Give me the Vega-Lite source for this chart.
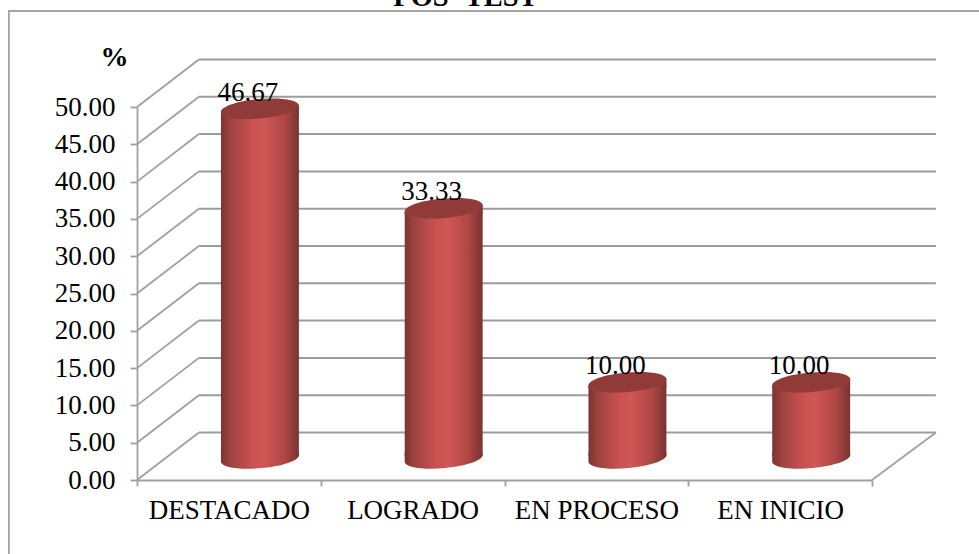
{
"$schema":"https://vega.github.io/schema/vega-lite/v6.json",
"autosize":"none",
"width":735,"height":373,
"padding":{"left":137,"top":107,"right":107,"bottom":74},
"background":"white",
"config":{"view":{"stroke":null},"font":"Liberation Serif"},
"title":{"text":"POS- TEST","font":"Liberation Serif","fontSize":28.5,"fontWeight":"bold","color":"#000000","anchor":"middle","frame":"group","dx":-39,"dy":24.5,"offset":0,"baseline":"alphabetic"},
"datasets":{
"bars":[{"category":"DESTACADO","value":46.67,"slot":0},{"category":"LOGRADO","value":33.33,"slot":1},{"category":"EN PROCESO","value":10.00,"slot":2},{"category":"EN INICIO","value":10.00,"slot":3}],
"grid":[{"v":0},{"v":5},{"v":10},{"v":15},{"v":20},{"v":25},{"v":30},{"v":35},{"v":40},{"v":45},{"v":50}]
},
"resolve":{"scale":{"x":"independent"},"axis":{"y":"independent"}},
"layer":[
{
"layer":[
{"data":{"values":[{"part":"chart area"}]},"mark":{"type":"rect","fill":"transparent","stroke":"#a6a6a6","strokeWidth":1.8},
 "encoding":{"x":{"datum":-0.697,"type":"quantitative","scale":{"domain":[0,4],"nice":false,"zero":false},"axis":null},"x2":{"datum":5},"y":{"datum":62.87,"type":"quantitative","scale":{"domain":[0,50],"nice":false,"zero":false},"axis":null},"y2":{"datum":-12}}},
{"data":{"name":"grid"},"transform":[{"calculate":"datum.v+6.37","as":"back"}],"mark":{"type":"rule","stroke":"#9c9c9c","strokeWidth":2},
 "encoding":{"x":{"datum":0.337,"type":"quantitative","axis":null},"x2":{"datum":4.348},"y":{"field":"back","type":"quantitative","scale":{"domain":[0,50],"nice":false,"zero":false},"axis":null}}},
{"data":{"name":"grid"},"transform":[{"calculate":"datum.v+6.37","as":"back"}],"mark":{"type":"rule","stroke":"#a0a0a0","strokeWidth":1.8},
 "encoding":{"x":{"datum":0,"type":"quantitative","axis":null},"x2":{"datum":0.337},"y":{"field":"v","type":"quantitative","scale":{"domain":[0,50],"nice":false,"zero":false},"axis":null},"y2":{"field":"back"}}},
{"data":{"values":[{"v":0}]},"transform":[{"calculate":"datum.v+6.37","as":"back"}],"mark":{"type":"rule","stroke":"#a0a0a0","strokeWidth":1.8},
 "encoding":{"x":{"datum":4,"type":"quantitative","axis":null},"x2":{"datum":4.348},"y":{"field":"v","type":"quantitative","scale":{"domain":[0,50],"nice":false,"zero":false},"axis":null},"y2":{"field":"back"}}},
{"data":{"name":"bars"},"transform":[{"calculate":"datum.slot+0.669","as":"mid"},{"calculate":"datum.mid-0.212","as":"x0"},{"calculate":"datum.mid+0.212","as":"x1"},{"calculate":"2.8+0.47","as":"base"},{"calculate":"datum.value+3.1-0.47","as":"top"}],
 "mark":{"type":"rect","fill":{"x1":0,"y1":0,"x2":1,"y2":0,"gradient":"linear","stops":[{"offset":0,"color":"#7c3432"},{"offset":0.12,"color":"#9c4240"},{"offset":0.4,"color":"#c9524f"},{"offset":0.55,"color":"#cf5755"},{"offset":0.8,"color":"#b04846"},{"offset":0.94,"color":"#8a3a38"},{"offset":1,"color":"#7a3331"}]}},
 "encoding":{"x":{"field":"x0","type":"quantitative","axis":null},"x2":{"field":"x1"},"y":{"field":"top","type":"quantitative","scale":{"domain":[0,50],"nice":false,"zero":false},"axis":null},"y2":{"field":"base"}}},
{"data":{"name":"bars"},"transform":[{"calculate":"datum.slot+0.669","as":"mid"},{"calculate":"2.9","as":"base"}],
 "mark":{"type":"point","filled":true,"opacity":1,"size":6084,"shape":"M -1 0.09 L -1 -0.15 L 1 -0.15 L 1 -0.09 A 1 0.25 -5 1 1 -1 0.09 Z","fill":{"x1":0,"y1":0,"x2":1,"y2":0,"gradient":"linear","stops":[{"offset":0,"color":"#7c3432"},{"offset":0.12,"color":"#9c4240"},{"offset":0.4,"color":"#c9524f"},{"offset":0.55,"color":"#cf5755"},{"offset":0.8,"color":"#b04846"},{"offset":0.94,"color":"#8a3a38"},{"offset":1,"color":"#7a3331"}]}},
 "encoding":{"x":{"field":"mid","type":"quantitative","axis":null},"y":{"field":"base","type":"quantitative","scale":{"domain":[0,50],"nice":false,"zero":false},"axis":null}}},
{"data":{"name":"bars"},"transform":[{"calculate":"datum.slot+0.669","as":"mid"},{"calculate":"datum.value+3.1","as":"top"}],
 "mark":{"type":"point","filled":true,"opacity":1,"size":6084,"shape":"M -1 0.09 L 1 -0.09 L 1 0.15 L -1 0.15 Z","fill":{"x1":0,"y1":0,"x2":1,"y2":0,"gradient":"linear","stops":[{"offset":0,"color":"#7c3432"},{"offset":0.12,"color":"#9c4240"},{"offset":0.4,"color":"#c9524f"},{"offset":0.55,"color":"#cf5755"},{"offset":0.8,"color":"#b04846"},{"offset":0.94,"color":"#8a3a38"},{"offset":1,"color":"#7a3331"}]}},
 "encoding":{"x":{"field":"mid","type":"quantitative","axis":null},"y":{"field":"top","type":"quantitative","scale":{"domain":[0,50],"nice":false,"zero":false},"axis":null}}},
{"data":{"name":"bars"},"transform":[{"calculate":"datum.slot+0.669","as":"mid"},{"calculate":"datum.value+3.1","as":"top"}],
 "mark":{"type":"point","filled":true,"opacity":1,"size":6084,"shape":"M -1 0.09 A 1 0.25 -5 1 1 1 -0.09 A 1 0.25 -5 1 1 -1 0.09 Z","fill":"#913b39"},
 "encoding":{"x":{"field":"mid","type":"quantitative","axis":null},"y":{"field":"top","type":"quantitative","scale":{"domain":[0,50],"nice":false,"zero":false},"axis":null}}},
{"data":{"name":"bars"},"transform":[{"calculate":"datum.slot+0.604","as":"mid"},{"calculate":"datum.value+4.15","as":"above"}],
 "mark":{"type":"text","font":"Liberation Serif","fontSize":27,"color":"#000000","baseline":"alphabetic","align":"center"},
 "encoding":{"x":{"field":"mid","type":"quantitative","axis":null},"y":{"field":"above","type":"quantitative","scale":{"domain":[0,50],"nice":false,"zero":false},"axis":null},"text":{"field":"value","type":"quantitative","format":".2f"}}}
]
},
{"data":{"name":"bars"},"mark":{"type":"bar","opacity":0},
 "encoding":{
 "x":{"field":"category","type":"nominal","sort":null,"scale":{"paddingInner":0,"paddingOuter":0},
   "axis":{"title":null,"labelAngle":0,"tickBand":"extent","labelFont":"Liberation Serif","labelFontSize":27,"labelColor":"#000000","labelPadding":11,"domainColor":"#a0a0a0","domainWidth":1.8,"tickColor":"#a0a0a0","tickWidth":1.8,"tickSize":6,"labelOverlap":false}},
 "y":{"field":"value","type":"quantitative","scale":{"domain":[0,50],"nice":false,"zero":false},
   "axis":{"title":"%","titleAngle":0,"titleX":-23,"titleY":-42,"titleAlign":"center","titleBaseline":"alphabetic","titleFont":"Liberation Serif","titleFontSize":28,"titleFontWeight":"bold","titleColor":"#000000","values":[0,5,10,15,20,25,30,35,40,45,50],"format":".2f","grid":false,"labelFont":"Liberation Serif","labelFontSize":27,"labelColor":"#000000","labelPadding":15,"domainColor":"#a0a0a0","domainWidth":1.8,"tickColor":"#a0a0a0","tickWidth":1.8,"tickSize":7}}
 }}
]
}
